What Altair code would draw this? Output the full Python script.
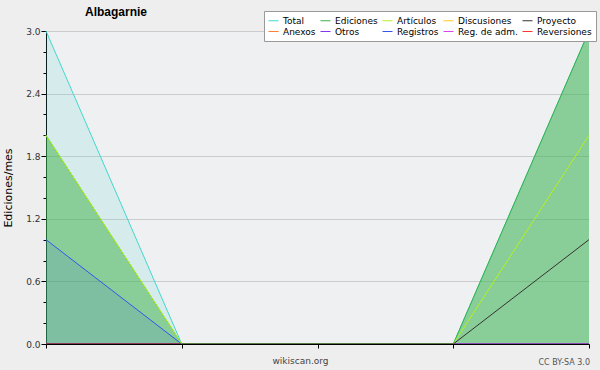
import altair as alt
import pandas as pd

# --- data -------------------------------------------------------------------
series_names = ["Total", "Ediciones", "Artículos", "Discusiones", "Proyecto",
                "Anexos", "Otros", "Registros", "Reg. de adm.", "Reversiones"]
series_colors = ["#40d8cc", "#3cb043", "#b4f020", "#ffcc22", "#333333",
                 "#ff8030", "#8833ee", "#3355ee", "#dd44ee", "#ff3333"]
months = [0, 1, 2, 3, 4]
total = [3, 0, 0, 0, 3]
ediciones = [2, 0, 0, 0, 3]
articulos = [2, 0, 0, 0, 2]
discusiones = [0, 0, 0, 0, 0]
proyecto = [0, 0, 0, 0, 1]
anexos = [0, 0, 0, 0, 0]
otros = [0, 0, 0, 0, 0]
registros = [1, 0, 0, 0, 0]
reg_adm = [0, 0, 0, 0, 0]
reversiones = [0, 0, 0, 0, 0]
y_ticks = [0.0, 0.2, 0.4, 0.6, 0.8, 1.0, 1.2, 1.4, 1.6, 1.8, 2.0, 2.2, 2.4, 2.6, 2.8, 3.0]
area_series = ["Total", "Ediciones", "Registros"]
area_opacity = [0.14, 0.5, 0.12]
chart_title = "Albagarnie"
y_title = "Ediciones/mes"
x_title = "wikiscan.org"
license_text = "CC BY-SA 3.0"

values = [total, ediciones, articulos, discusiones, proyecto,
          anexos, otros, registros, reg_adm, reversiones]
rows = []
for name, vals in zip(series_names, values):
    for m, v in zip(months, vals):
        rows.append({"mes": m, "serie": name, "relleno": name, "valor": v})
df = pd.DataFrame(rows)

color_of = dict(zip(series_names, series_colors))
color_scale = alt.Scale(domain=series_names, range=series_colors)
fill_scale = alt.Scale(domain=area_series, range=[color_of[s] for s in area_series])

x_enc = alt.X("mes:Q", scale=alt.Scale(domain=[0, 4], nice=False),
              axis=alt.Axis(values=months, labels=False, tickSize=4, tickColor="#000",
                            domainColor="#000", grid=False, zindex=1,
                            title=x_title, titleFont="DejaVu Sans", titleFontSize=9,
                            titleFontWeight="normal", titleColor="#444",
                            titleX=254, titleY=12, titleBaseline="top"))
major = "round(datum.value*10) % 6 == 0"
y_enc = alt.Y("valor:Q", scale=alt.Scale(domain=[0, 3], nice=False),
              axis=alt.Axis(values=y_ticks,
                            labelExpr=f"{major} ? format(datum.value, '.1f') : ''",
                            tickSize={"condition": {"test": major, "value": 5}, "value": 3},
                            gridOpacity={"condition": {"test": major, "value": 1}, "value": 0},
                            gridColor="#cccccc", tickColor="#000", domainColor="#000",
                            labelFont="DejaVu Sans", labelFontSize=9, labelColor="#333",
                            labelPadding=1, zindex=0,
                            title=y_title, titleFont="DejaVu Sans", titleFontSize=11,
                            titleFontWeight="normal", titleColor="#000", titlePadding=12))

base = alt.Chart(df)

layers = []
for name, op in zip(area_series, area_opacity):
    layers.append(
        base.transform_filter(alt.datum.relleno == name)
        .mark_area(fillOpacity=op, line=False)
        .encode(x=x_enc, y=y_enc,
                fill=alt.Fill("relleno:N", scale=fill_scale, legend=None))
    )

legend = alt.Legend(orient="none", legendX=218, legendY=-20,
                    direction="horizontal", columns=5, symbolType="stroke",
                    symbolSize=100, symbolStrokeWidth=1,
                    labelFont="DejaVu Sans", labelFontSize=9, labelColor="#000",
                    fillColor="white", strokeColor="#999999", padding=4,
                    rowPadding=0, columnPadding=2, labelOffset=4, cornerRadius=0)

draw_order = ["Discusiones", "Anexos", "Otros", "Reg. de adm.", "Reversiones",
              "Total", "Registros", "Ediciones", "Artículos", "Proyecto"]
for name in draw_order:
    layers.append(
        base.transform_filter(alt.datum.serie == name)
        .mark_line(strokeWidth=1)
        .encode(x=x_enc, y=y_enc,
                color=alt.Color("serie:N", scale=color_scale, legend=legend, title=""))
    )

cc = alt.Chart(pd.DataFrame({"t": [license_text]})).mark_text(
    align="right", baseline="middle", font="DejaVu Sans", fontSize=8, color="#555"
).encode(x=alt.value(544), y=alt.value(332), text="t:N")
layers.append(cc)

chart = alt.layer(*layers).properties(
    width=543, height=313,
    title=alt.Title(chart_title, anchor="start", frame="group", dx=39, dy=15,
                    font="Liberation Sans", fontSize=12, fontWeight="bold",
                    color="#000", offset=7),
    autosize=alt.AutoSizeParams(type="none"),
    padding={"left": 46, "top": 31, "right": 11, "bottom": 26},
    background="#eeeeee",
).configure_view(stroke=None, fill="#eff0f2")

chart.save("out.html", embed_options={"renderer": "svg", "actions": False})
